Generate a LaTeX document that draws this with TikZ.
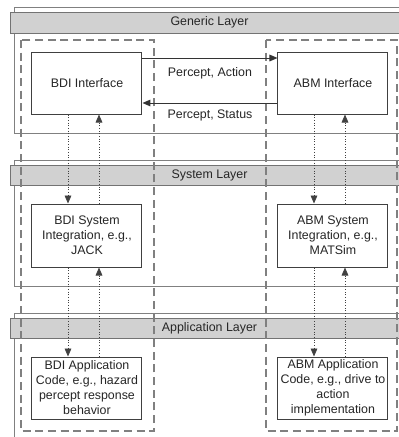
\documentclass[tikz,border=0pt]{standalone}
\usepackage{fontspec}
\setmainfont{Liberation Sans}
\usetikzlibrary{arrows.meta}

\tikzset{every picture/.style={line width=0.75pt}}
\tikzset{
  compbox/.style={draw=black!75, fill=white, minimum width=82.5pt, minimum height=46.5pt,
    align=center, inner sep=1pt, text=black!85, font=\fontsize{9.3}{11.25}\selectfont},
  layerbox/.style={draw=black!50, fill=white},
  layerbar/.style={draw=black!55, fill=black!18},
  layertext/.style={text=black!85, font=\fontsize{9.3}{11.25}\selectfont},
  groupbox/.style={draw=black!50, line width=1.1pt, dash pattern=on 6pt off 3.5pt},
  msg/.style={draw=black!80, -{Triangle[length=6pt,width=5pt]}},
  msgtext/.style={text=black!85, font=\fontsize{9.3}{11.25}\selectfont, inner sep=0pt},
  call/.style={draw=black!75, line width=0.6pt, dash pattern=on 0.7pt off 1.3pt,
    -{Triangle[length=6pt,width=5pt]}}
}

\begin{document}
\begin{tikzpicture}[x=0.75pt,y=0.75pt,yscale=-1,xscale=1]
	\useasboundingbox (0,0) rectangle (399,437);

	%Shape: Layers
	\draw [layerbox] (15,7) rectangle (406,133);
	\draw [layerbar] (11,12) rectangle (410,33);
	\draw [layerbox] (15,160) rectangle (406,286);
	\draw [layerbar] (11,165) rectangle (410,185);
	\draw [layerbox] (15,313) rectangle (406,450);
	\draw [layerbar] (11,318) rectangle (410,338);

	% Text Node
	\node [layertext] (genlabel) at (209.5,22.5) {Generic Layer};
	% Text Node
	\node [layertext] (syslabel) at (209.5,175) {System Layer};
	% Text Node
	\node [layertext] (applabel) at (209.5,328) {Application Layer};

	%Shape: Dashed groups
	\draw [groupbox] (21,40) rectangle (154,431);
	\draw [groupbox] (266,40) rectangle (397,431);

	% Component Nodes
	\node [compbox] (bdiif) at (87,83) {BDI Interface};
	\node [compbox] (abmif) at (333,83) {ABM Interface};
	\node [compbox, minimum height=47.25pt] (bdisys) at (87,235.5) {BDI System\\Integration, e.g.,\\JACK};
	\node [compbox, minimum height=47.25pt] (abmsys) at (333,235.5) {ABM System\\Integration, e.g.,\\MATSim};
	\node [compbox] (bdiapp) at (87,388) {BDI Application\\Code, e.g., hazard\\percept response\\behavior};
	\node [compbox] (abmapp) at (333,388) {ABM Application\\Code, e.g., drive to\\action\\implementation};

	%Straight Lines: messages between interfaces
	\draw [msg] ([yshift=-18.75pt]bdiif.east) -- ([yshift=-18.75pt]abmif.west)
		node [msgtext, midway, below=7pt] (pa) {Percept, Action};
	\draw [msg] ([yshift=15pt]abmif.west) -- ([yshift=15pt]bdiif.east)
		node [msgtext, midway, below=5pt] (ps) {Percept, Status};

	%Straight Lines: calls between layers
	\draw [call] ([xshift=-14.25pt]bdiif.south) -- ([xshift=-14.25pt]bdisys.north);
	\draw [call] ([xshift=9pt]bdisys.north) -- ([xshift=9pt]bdiif.south);
	\draw [call] ([xshift=-14.25pt]bdisys.south) -- ([xshift=-14.25pt]bdiapp.north);
	\draw [call] ([xshift=9pt]bdiapp.north) -- ([xshift=9pt]bdisys.south);
	\draw [call] ([xshift=-14.25pt]abmif.south) -- ([xshift=-14.25pt]abmsys.north);
	\draw [call] ([xshift=9pt]abmsys.north) -- ([xshift=9pt]abmif.south);
	\draw [call] ([xshift=-14.25pt]abmsys.south) -- ([xshift=-14.25pt]abmapp.north);
	\draw [call] ([xshift=9pt]abmapp.north) -- ([xshift=9pt]abmsys.south);

\end{tikzpicture}
\end{document}
